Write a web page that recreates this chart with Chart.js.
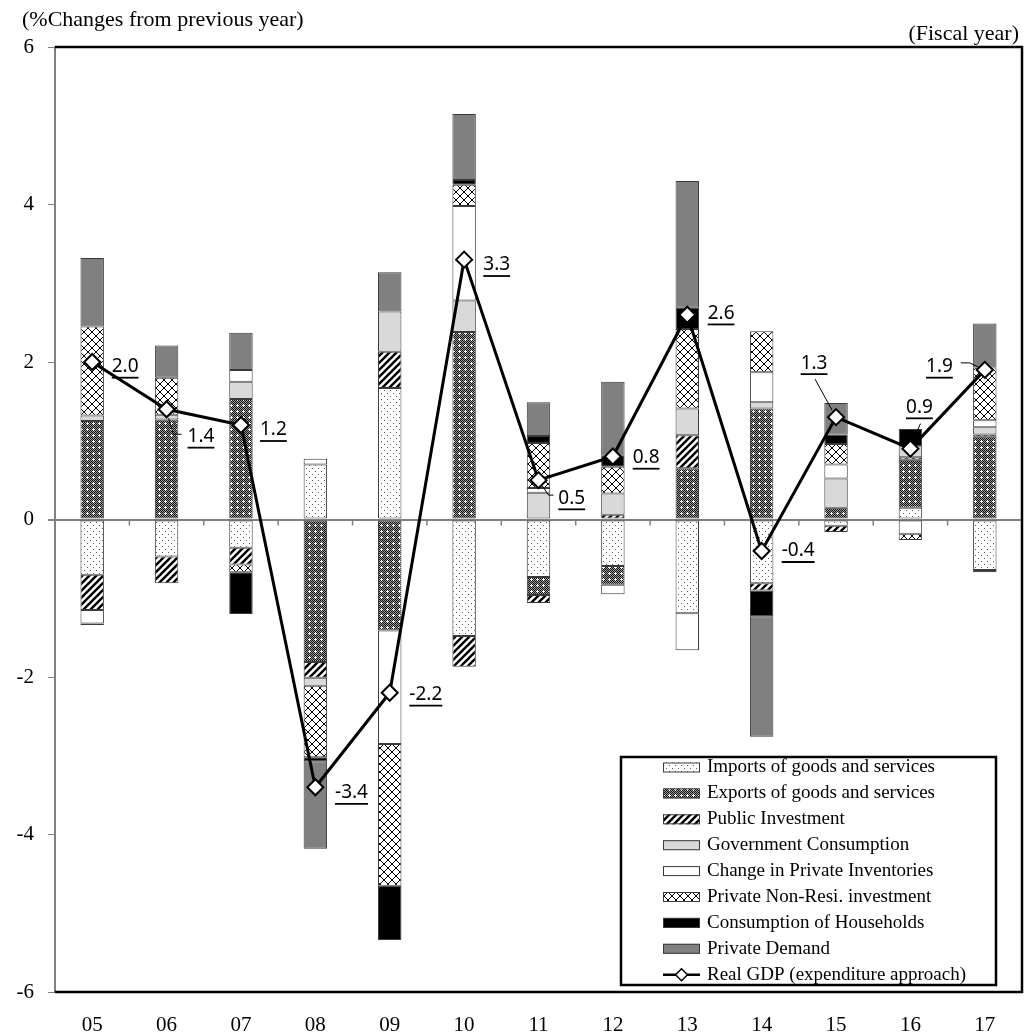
<!DOCTYPE html>
<html>
<head>
<meta charset="utf-8">
<script src="https://cdn.jsdelivr.net/npm/chart.js@4.4.1/dist/chart.umd.min.js"></script>
<style>
  html, body { margin: 0; padding: 0; background: #ffffff; }
  #wrap { position: relative; width: 1034px; height: 1033px; }
</style>
</head>
<body>
<div id="wrap"><canvas id="c" width="1034" height="1033"></canvas></div>
<script>
// Contributions to real GDP growth by demand component (fiscal years)
const years = ['05','06','07','08','09','10','11','12','13','14','15','16','17'];

const imports       = [-0.70, -0.47, -0.36,  0.70,  1.67, -1.48, -0.73, -0.59, -1.19, -0.81, -0.08,  0.15, -0.64];
const exports       = [ 1.25,  1.27,  1.53, -1.81, -1.41,  2.38, -0.23, -0.24,  0.65,  1.41,  0.15,  0.61,  1.05];
const publicInv     = [-0.45, -0.34, -0.21, -0.20,  0.46, -0.39, -0.10,  0.06,  0.42, -0.09, -0.08,  0.03,  0.03];
const govConsumption= [ 0.07,  0.06,  0.22, -0.10,  0.51,  0.40,  0.34,  0.27,  0.34,  0.08,  0.37,  0.14,  0.09];
const inventories   = [-0.17,  null,  0.15,  0.07, -1.44,  1.20,  0.06, -0.12, -0.47,  0.38,  0.18, -0.18,  0.09];
const nonResiInv    = [ 1.13,  0.47, -0.10, -0.91, -1.80,  0.27,  0.57,  0.34,  1.01,  0.52,  0.26, -0.08,  0.67];
const households    = [-0.02,  null, -0.53, -0.05, -0.69,  0.06,  0.09,  0.14,  0.27, -0.33,  0.12,  0.22, -0.03];
const privateDemand = [ 0.87,  0.41,  0.47, -1.11,  0.50,  0.84,  0.43,  0.94,  1.61, -1.53,  0.40,  null,  0.56];
const realGDP       = [ 2.0,   1.4,   1.2,  -3.4,  -2.2,   3.3,   0.5,   0.8,   2.6,  -0.4,   1.3,   0.9,   1.9];

const yTicks = [-6, -4, -2, 0, 2, 4, 6];

const seriesNames = [
  'Imports of goods and services',
  'Exports of goods and services',
  'Public Investment',
  'Government Consumption',
  'Change in Private Inventories',
  'Private Non-Resi. investment',
  'Consumption of Households',
  'Private Demand',
  'Real GDP (expenditure approach)'
];

// ---- fill patterns for the bar segments ----
function tile(w, h, paint) {
  const c = document.createElement('canvas');
  c.width = w; c.height = h;
  const g = c.getContext('2d');
  paint(g, w, h);
  return g.createPattern(c, 'repeat');
}
const fillImports = tile(6, 6, (g) => {
  g.fillStyle = '#ffffff'; g.fillRect(0, 0, 6, 6);
  g.fillStyle = '#5a5a5a';
  g.fillRect(0, 0, 1, 1); g.fillRect(3, 3, 1, 1);
});
const fillExports = tile(6, 6, (g) => {
  for (let y = 0; y < 6; y++) for (let x = 0; x < 6; x++) {
    g.fillStyle = ((x + y) % 2 === 0) ? '#111111' : '#9a9a9a';
    g.fillRect(x, y, 1, 1);
  }
  g.fillStyle = '#ffffff';
  g.fillRect(3, 2, 1, 3); g.fillRect(2, 3, 3, 1);
});
const fillPublic = tile(7, 7, (g) => {
  g.fillStyle = '#ffffff'; g.fillRect(0, 0, 7, 7);
  g.strokeStyle = '#000000'; g.lineWidth = 2.4;
  for (const o of [-7, 0, 7]) {
    g.beginPath(); g.moveTo(o - 1, 8); g.lineTo(o + 8, -1); g.stroke();
  }
});
const fillNonResi = tile(8, 8, (g) => {
  g.fillStyle = '#ffffff'; g.fillRect(0, 0, 8, 8);
  g.strokeStyle = '#000000'; g.lineWidth = 1;
  g.beginPath();
  g.moveTo(-1, -1); g.lineTo(9, 9);
  g.moveTo(-1, 9); g.lineTo(9, -1);
  g.stroke();
});

const barFills = [fillImports, fillExports, fillPublic, '#d9d9d9', '#ffffff', fillNonResi, '#000000', '#808080'];
const barValues = [imports, exports, publicInv, govConsumption, inventories, nonResiInv, households, privateDemand];

// GDP value labels: offset of the label (left edge, vertical centre) from its point,
// and an optional leader line, also given relative to the point.
const labelOffsets = [
  [19.5, 4.7], [21, 27.4], [19, 5], [19.7, 5.7], [19.6, 1.8], [19.2, 5.4], [19.8, 18.2],
  [19.8, 1.2], [20.4, -1.3], [20, 0], [-35.4, -54], [-4.4, -41.3], [-58.8, -3.2]
];
const leaders = {
  1: [[2, 9], [6.7, 25], [15, 25]],
  6: [[4, 6], [10, 15], [15, 15]],
  10: [[-21, -38], [-4, -7]],
  11: [[10, -25], [7, -18]],
  12: [[-24, -7], [-15, -7], [-5, -2]]
};

const datasets = barValues.map((vals, i) => ({
  type: 'bar',
  label: seriesNames[i],
  data: vals,
  backgroundColor: barFills[i],
  borderColor: '#3a3a3a',
  borderWidth: 1,
  borderSkipped: false,
  stack: 'demand',
  order: 1,
  barPercentage: 0.315,
  categoryPercentage: 1.0
}));
datasets.push({
  type: 'line',
  label: seriesNames[8],
  data: realGDP,
  borderColor: '#000000',
  borderWidth: 3,
  pointStyle: 'rectRot',
  pointRadius: 8,
  pointBackgroundColor: '#ffffff',
  pointBorderColor: '#000000',
  pointBorderWidth: 2,
  tension: 0,
  order: 0
});

const decorPlugin = {
  id: 'decor',
  afterDatasetsDraw(chart) {
    const ctx = chart.ctx;
    const a = chart.chartArea;
    const x = chart.scales.x;
    const y = chart.scales.y;
    const y0 = y.getPixelForValue(0);

    ctx.save();
    // minor ticks under the zero line at category boundaries
    ctx.strokeStyle = '#808080';
    ctx.lineWidth = 1.5;
    for (let i = 0; i < years.length - 1; i++) {
      const px = (x.getPixelForValue(i) + x.getPixelForValue(i + 1)) / 2;
      ctx.beginPath(); ctx.moveTo(px, y0); ctx.lineTo(px, y0 + 6); ctx.stroke();
    }

    // plot frame: black on top, right and bottom
    ctx.strokeStyle = '#000000';
    ctx.lineWidth = 2.5;
    ctx.beginPath();
    ctx.moveTo(a.left, a.top);
    ctx.lineTo(a.right, a.top);
    ctx.lineTo(a.right, a.bottom);
    ctx.lineTo(a.left, a.bottom);
    ctx.stroke();

    // GDP value labels with underline and leader lines
    const meta = chart.getDatasetMeta(chart.data.datasets.length - 1);
    ctx.font = '19px "Noto Sans"';
    ctx.textBaseline = 'middle';
    ctx.textAlign = 'left';
    ctx.fillStyle = '#000000';
    ctx.strokeStyle = '#000000';
    meta.data.forEach((pt, i) => {
      const txt = realGDP[i].toFixed(1);
      const lx = pt.x + labelOffsets[i][0];
      const ly = pt.y + labelOffsets[i][1];
      ctx.fillText(txt, lx, ly);
      const w = ctx.measureText(txt).width;
      ctx.lineWidth = 1.8;
      ctx.beginPath(); ctx.moveTo(lx, ly + 11); ctx.lineTo(lx + w, ly + 11); ctx.stroke();
      if (leaders[i]) {
        ctx.lineWidth = 1;
        ctx.beginPath();
        leaders[i].forEach((p, k) => {
          if (k === 0) ctx.moveTo(pt.x + p[0], pt.y + p[1]);
          else ctx.lineTo(pt.x + p[0], pt.y + p[1]);
        });
        ctx.stroke();
      }
    });

    // legend box
    const bx = 621, by = 757, bw = 375, bh = 228;
    ctx.fillStyle = '#ffffff';
    ctx.fillRect(bx, by, bw, bh);
    ctx.strokeStyle = '#000000';
    ctx.lineWidth = 2.5;
    ctx.strokeRect(bx, by, bw, bh);
    ctx.font = '19px "Liberation Serif"';
    ctx.textBaseline = 'middle';
    const rowTop = 767.5, rowStep = 25.9, sx = 663, sw = 37;
    seriesNames.forEach((name, i) => {
      const cy = rowTop + i * rowStep;
      if (i < barFills.length) {
        ctx.fillStyle = barFills[i];
        ctx.fillRect(sx, cy - 5, sw, 10);
        ctx.strokeStyle = '#3a3a3a';
        ctx.lineWidth = 1;
        ctx.strokeRect(sx + 0.5, cy - 4.5, sw - 1, 9);
      } else {
        ctx.strokeStyle = '#000000';
        ctx.lineWidth = 2.5;
        ctx.beginPath(); ctx.moveTo(sx, cy); ctx.lineTo(sx + sw, cy); ctx.stroke();
        const mx = sx + sw / 2;
        ctx.fillStyle = '#ffffff';
        ctx.lineWidth = 1.5;
        ctx.beginPath();
        ctx.moveTo(mx - 6, cy); ctx.lineTo(mx, cy - 6); ctx.lineTo(mx + 6, cy); ctx.lineTo(mx, cy + 6);
        ctx.closePath(); ctx.fill(); ctx.stroke();
      }
      ctx.fillStyle = '#000000';
      ctx.fillText(name, 707, cy);
    });

    // axis captions
    ctx.font = '22px "Liberation Serif"';
    ctx.textAlign = 'left';
    ctx.fillText('(%Changes from previous year)', 22, 20);
    ctx.textAlign = 'right';
    ctx.fillText('(Fiscal year)', 1019, 34);
    ctx.restore();
  }
};

new Chart(document.getElementById('c'), {
  data: { labels: years, datasets },
  options: {
    responsive: false,
    animation: false,
    layout: { padding: { top: 47, right: 12, left: 0, bottom: 0 } },
    plugins: { legend: { display: false }, tooltip: { enabled: false } },
    scales: {
      x: {
        type: 'category',
        offset: true,
        grid: { display: false },
        border: { display: false },
        ticks: { color: '#000000', font: { family: 'Liberation Serif', size: 21 }, padding: 13, maxRotation: 0 },
        afterFit(s) { s.height = 41; }
      },
      y: {
        type: 'linear',
        stacked: true,
        min: -6,
        max: 6,
        afterBuildTicks(s) { s.ticks = yTicks.map(v => ({ value: v })); },
        grid: {
          drawOnChartArea: true,
          drawTicks: true,
          tickLength: 7,
          tickColor: '#808080',
          color: (c) => (c.tick && c.tick.value === 0) ? '#808080' : 'rgba(0,0,0,0)',
          lineWidth: (c) => (c.tick && c.tick.value === 0) ? 2 : 1
        },
        border: { color: '#808080', width: 2 },
        ticks: { color: '#000000', font: { family: 'Liberation Serif', size: 21 }, padding: 14 },
        afterFit(s) { s.width = 55; }
      }
    }
  },
  plugins: [decorPlugin]
});
</script>
</body>
</html>
